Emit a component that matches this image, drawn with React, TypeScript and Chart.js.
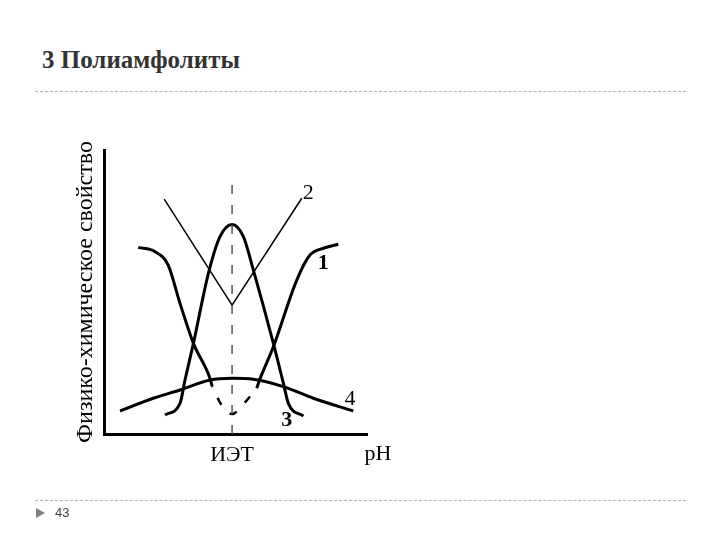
import React, { useEffect, useRef } from "react";
import { Chart, registerables } from "chart.js";
Chart.register(...registerables);

// Schematic data (arbitrary units, x: pH axis 0..100, y: property 0..100)
const IET = 48.7;
const curve1Left = [
  { x: 13.0, y: 65.7 }, { x: 19.4, y: 64.2 }, { x: 24.4, y: 59.5 }, { x: 28.9, y: 46.0 },
  { x: 34.0, y: 31.9 }, { x: 40.3, y: 19.6 }, { x: 41.1, y: 16.9 },
];
const curve1Mid = [
  { x: 41.1, y: 16.9 }, { x: 44.5, y: 10.5 }, { x: 48.7, y: 7.0 }, { x: 53.0, y: 10.5 }, { x: 58.1, y: 16.1 },
];
const curve1Right = [
  { x: 58.1, y: 16.1 }, { x: 58.9, y: 18.4 }, { x: 64.4, y: 30.7 }, { x: 73.3, y: 54.2 },
  { x: 78.3, y: 63.0 }, { x: 83.4, y: 65.4 }, { x: 89.1, y: 66.8 },
];
const curve2 = [
  { x: 22.9, y: 82.7 }, { x: 48.7, y: 45.4 }, { x: 75.2, y: 83.0 },
];
const curve3 = [
  { x: 23.2, y: 6.7 }, { x: 28.9, y: 10.8 }, { x: 30.8, y: 19.0 }, { x: 34.0, y: 31.9 },
  { x: 39.7, y: 56.6 }, { x: 44.1, y: 69.5 }, { x: 48.7, y: 73.8 }, { x: 53.0, y: 69.5 },
  { x: 56.8, y: 57.7 }, { x: 64.4, y: 31.9 }, { x: 68.2, y: 17.9 }, { x: 70.1, y: 10.8 }, { x: 75.8, y: 6.3 },
];
const curve4 = [
  { x: 6.1, y: 8.1 }, { x: 18.7, y: 12.6 }, { x: 28.9, y: 15.5 }, { x: 40.3, y: 19.0 },
  { x: 48.7, y: 19.6 }, { x: 56.8, y: 19.3 }, { x: 68.2, y: 16.7 }, { x: 79.6, y: 12.6 }, { x: 94.8, y: 8.1 },
];
const ietLine = [{ x: IET, y: 0 }, { x: IET, y: 90.6 }];

const curveLabels = [
  { text: "1", x: 83.4, y: 60.1, bold: true },
  { text: "2", x: 77.7, y: 84.8, bold: false },
  { text: "3", x: 69.5, y: 4.9, bold: true },
  { text: "4", x: 93.5, y: 12.3, bold: false },
];
const xTickLabel = "ИЭТ";
const xEndLabel = "pH";
const xEndLabelPos = 104.2;
const yTitle = "Физико-химическое свойство";
const slideTitle = "3 Полиамфолиты";
const pageNumber = "43";

const SERIF = "'Liberation Serif', 'DejaVu Serif', serif";

const labelPlugin = {
  id: "curveLabels",
  afterDatasetsDraw(chart: any) {
    const { ctx, scales } = chart;
    const xs = scales.x;
    const ys = scales.y;
    ctx.save();
    ctx.fillStyle = "#000";
    ctx.textAlign = "center";
    ctx.textBaseline = "middle";
    for (const l of curveLabels) {
      ctx.font = `${l.bold ? "bold " : ""}22px ${SERIF}`;
      ctx.fillText(l.text, xs.getPixelForValue(l.x), ys.getPixelForValue(l.y));
    }
    ctx.font = `22px ${SERIF}`;
    ctx.textBaseline = "alphabetic";
    ctx.fillText(xEndLabel, xs.getPixelForValue(xEndLabelPos), chart.chartArea.bottom + 26);
    ctx.restore();
  },
};

export default function App() {
  const ref = useRef<HTMLCanvasElement | null>(null);
  useEffect(() => {
    if (!ref.current) return;
    const thick = (data: any[]) => ({
      data,
      borderColor: "#000",
      borderWidth: 3,
      pointRadius: 0,
      fill: false,
      cubicInterpolationMode: "monotone" as const,
    });
    const chart = new Chart(ref.current, {
      type: "line",
      data: {
        datasets: [
          { data: ietLine, borderColor: "#555", borderWidth: 1.5, borderDash: [9, 11], pointRadius: 0, tension: 0 },
          { data: curve2, borderColor: "#000", borderWidth: 1.5, pointRadius: 0, tension: 0 },
          thick(curve4),
          thick(curve3),
          thick(curve1Left),
          thick(curve1Right),
          { ...thick(curve1Mid), borderDash: [8, 12], borderDashOffset: 7, borderWidth: 2.5 },
        ] as any,
      },
      options: {
        animation: false,
        responsive: false,
        devicePixelRatio: 1,
        events: [],
        layout: { padding: { left: 67, top: 150, right: 353, bottom: 76 } },
        plugins: { legend: { display: false }, tooltip: { enabled: false } },
        scales: {
          x: {
            type: "linear",
            min: 0,
            max: 100,
            grid: { display: false },
            border: { display: true, color: "#000", width: 3 },
            afterBuildTicks: (s: any) => { s.ticks = [{ value: IET }]; },
            afterFit: (s: any) => { s.height = 30; },
            ticks: {
              autoSkip: false,
              maxRotation: 0,
              padding: 0,
              color: "#000",
              font: { family: SERIF, size: 22 },
              callback: () => xTickLabel,
            },
          },
          y: {
            type: "linear",
            min: 0,
            max: 100,
            grid: { display: false },
            border: { display: true, color: "#000", width: 3 },
            ticks: { display: false },
            afterFit: (s: any) => { s.width = 37; },
            title: {
              display: true,
              text: yTitle,
              color: "#000",
              font: { family: SERIF, size: 24 },
              padding: { top: 4, bottom: 0 },
            },
          },
        },
      } as any,
      plugins: [labelPlugin],
    });
    return () => chart.destroy();
  }, []);

  return (
    <div>
      <div
        style={{
          position: "absolute", left: 42, top: 47, fontFamily: SERIF, fontWeight: "bold",
          fontSize: 25, lineHeight: "25px", color: "#333", whiteSpace: "nowrap",
        }}
      >
        {slideTitle}
      </div>
      <div style={{ position: "absolute", left: 35, top: 91, width: 651, height: 0, borderTop: "1px dashed #b5b5b5" }} />
      <canvas ref={ref} width={720} height={540} style={{ position: "absolute", left: 0, top: 0, width: 720, height: 540 }} />
      <div style={{ position: "absolute", left: 35, top: 500, width: 651, height: 0, borderTop: "1px dashed #b5b5b5" }} />
      <div
        style={{
          position: "absolute", left: 36, top: 508, width: 0, height: 0,
          borderLeft: "9px solid #7f7f7f", borderTop: "5px solid transparent", borderBottom: "5px solid transparent",
        }}
      />
      <div
        style={{
          position: "absolute", left: 55, top: 505, fontFamily: "'Liberation Sans', Arial, sans-serif",
          fontSize: 13, lineHeight: "16px", color: "#444",
        }}
      >
        {pageNumber}
      </div>
    </div>
  );
}
